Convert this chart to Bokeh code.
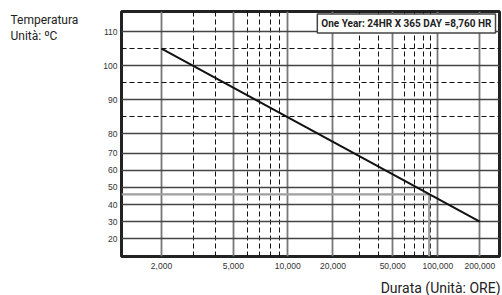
import numpy as np
from bokeh.plotting import figure
from bokeh.models import Range1d, FixedTicker, Label
from bokeh.embed import file_html
from bokeh.resources import INLINE

# ---- data ----
X_TICKS = [2000, 5000, 10000, 20000, 50000, 100000, 200000]
X_TICK_LABELS = ["2,000", "5,000", "10,000", "20,000", "50,000", "100,000", "200,000"]
X_MINOR = [3000, 4000, 6000, 7000, 8000, 9000, 30000, 40000, 60000, 70000, 80000, 90000]
Y_TICKS = [20, 30, 40, 50, 60, 70, 80, 90, 100, 110]
Y_TICK_LABELS = ["20", "30", "40", "50", "60", "70", "80", "90", "100", "110"]
Y_MINOR = [85, 95, 105]
LIFE_HOURS = [2000, 200000]
LIFE_TEMP = [105, 30]
MARK_HOURS = 87600   # ten years
MARK_TEMP = 46

# ---- the graph paper's own (non-uniform) scales ----
X_SCALE_HOURS = [1e3, 1e4, 1e5, 1e6]
X_SCALE_POS = [106.6, 287.3, 437.3, 576.8]
Y_SCALE_TEMP = [20, 70, 80, 110]
Y_SCALE_POS = [17.7, 103.3, 122.7, 225.0]


def xmap(v):
    return np.round(np.interp(np.log10(np.asarray(v, dtype=float)),
                              np.log10(X_SCALE_HOURS), X_SCALE_POS), 3)


def ymap(v):
    return np.round(np.interp(np.asarray(v, dtype=float), Y_SCALE_TEMP, Y_SCALE_POS), 3)


TITLE_FONT = "Roboto"
REG = "Liberation Sans"

FRAME_W = 378
FRAME_H = 245

p = figure(frame_width=FRAME_W, frame_height=FRAME_H, output_backend="svg",
           toolbar_location=None,
           x_range=Range1d(121, 121 + FRAME_W),
           y_range=Range1d(0, FRAME_H),
           min_border_left=121, min_border_right=3, min_border_top=11, min_border_bottom=39)
p.background_fill_color = "white"
p.border_fill_color = "white"
p.outline_line_color = "#222222"
p.outline_line_width = 3

xt_major = [float(v) for v in xmap(X_TICKS)]
xt_minor = [float(v) for v in xmap(X_MINOR)]
yt_major = [float(v) for v in ymap(Y_TICKS)]
yt_minor = [float(v) for v in ymap(Y_MINOR)]
xticker = FixedTicker(ticks=xt_major, minor_ticks=xt_minor)
yticker = FixedTicker(ticks=yt_major, minor_ticks=yt_minor)

p.xaxis.ticker = xticker
p.yaxis.ticker = yticker
p.xaxis.major_label_overrides = {k: lab for k, lab in zip(xt_major, X_TICK_LABELS)}
p.yaxis.major_label_overrides = {k: lab for k, lab in zip(yt_major, Y_TICK_LABELS)}
p.axis.axis_line_color = None
p.axis.major_tick_line_color = None
p.axis.minor_tick_line_color = None
p.axis.major_tick_out = 0
p.axis.major_tick_in = 0
p.axis.minor_tick_out = 0
p.axis.minor_tick_in = 0
p.axis.major_label_text_font = REG
p.axis.major_label_text_font_size = "8.5px"
p.axis.major_label_text_color = "#333333"
p.xaxis.major_label_standoff = 6
p.yaxis.major_label_standoff = 4

p.xgrid.ticker = xticker
p.xgrid.grid_line_color = "#777777"
p.xgrid.grid_line_width = 1.8
p.ygrid.ticker = yticker
p.ygrid.grid_line_color = "#444444"
p.ygrid.grid_line_width = 1.4
for g in (p.xgrid, p.ygrid):
    g.minor_grid_line_color = "#111111"
    g.minor_grid_line_width = 1
    g.minor_grid_line_dash = "5 3"

# ten-year marker (gray)
mx = float(xmap([MARK_HOURS])[0])
my = float(ymap([MARK_TEMP])[0])
p.line([p.x_range.start, mx, mx], [my, my, p.y_range.start],
       line_color="#a0a0a0", line_width=2.2)

# life line
p.line(xmap(LIFE_HOURS), ymap(LIFE_TEMP), line_color="#111111", line_width=2)

# boxed note inside the plot area
p.add_layout(Label(x=495, y=233, text="One Year: 24HR X 365 DAY =8,760 HR",
                   text_align="right", text_baseline="middle",
                   text_font=TITLE_FONT, text_font_style="bold", text_font_size="10px",
                   text_color="#222222", background_fill_color="white",
                   border_line_color="#444444", border_line_width=1.5, padding=4))

# y title (two lines) in the left panel so it is not clipped
p.add_layout(Label(x=10, y=228.5, text="Temperatura\nUnità: ºC", text_align="left",
                   text_baseline="alphabetic", text_font=TITLE_FONT,
                   text_font_size="12px", text_line_height=1.2,
                   text_color="#222222"), "left")

# x title, right aligned under the plot (below panel, so it is not clipped)
p.add_layout(Label(x=500, y=-31, text="Durata (Unità: ORE)", text_align="right",
                   text_baseline="alphabetic", text_font=TITLE_FONT,
                   text_font_size="14px", text_color="#222222"), "below")

open("out.html", "w").write(file_html(p, INLINE))
